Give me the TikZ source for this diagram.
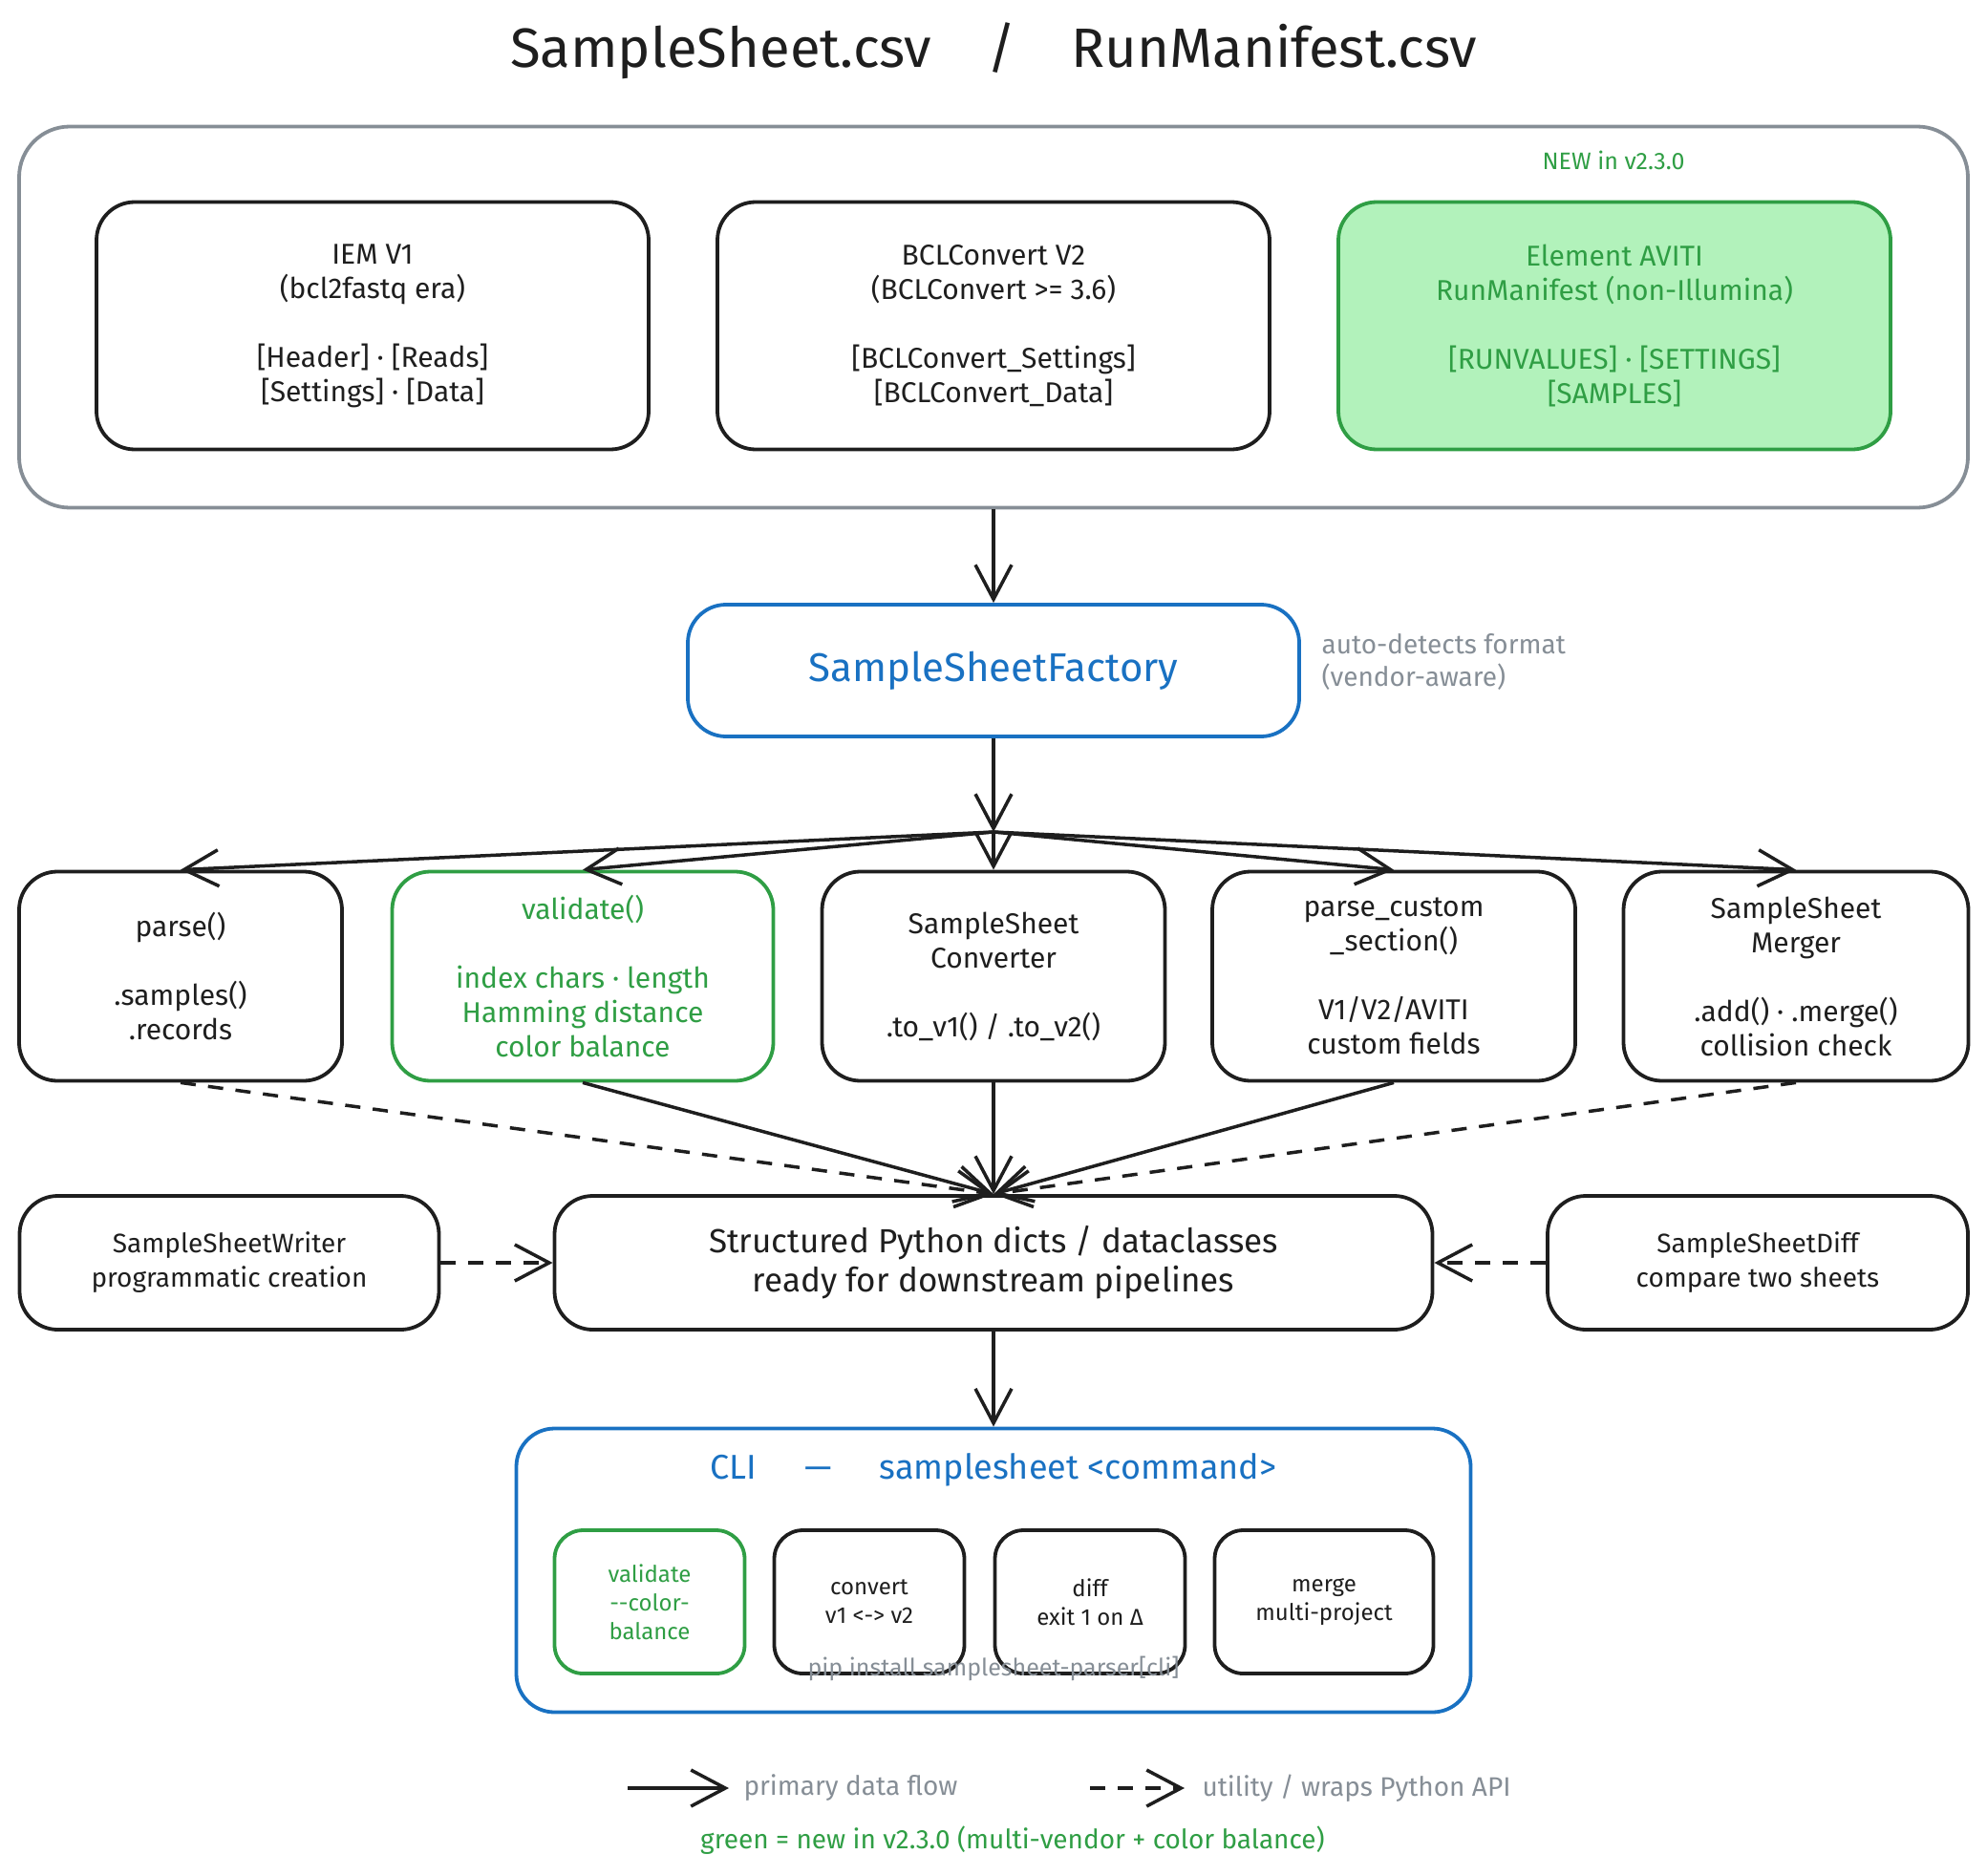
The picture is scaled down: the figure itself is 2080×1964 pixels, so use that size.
\documentclass[tikz,border=0pt]{standalone}
\usepackage{fontspec}
\setmainfont{Fira Sans}
\usetikzlibrary{arrows.meta}

\definecolor{ink}{HTML}{1E1E1E}
\definecolor{grayline}{HTML}{868E96}
\definecolor{newgreen}{HTML}{2F9E44}
\definecolor{newfill}{HTML}{B2F2BB}
\definecolor{apiblue}{HTML}{1971C2}

\newcommand{\fs}[2]{\fontsize{#1}{#2}\selectfont}

\tikzset{
  box/.style={draw=ink,line width=3.8pt,rounded corners=40pt,align=center,
    inner sep=0pt,text=ink,font=\fs{30}{36}},
  newbox/.style={box,draw=newgreen,text=newgreen},
  bluebox/.style={box,draw=apiblue,text=apiblue},
  clibox/.style={box,rounded corners=30pt,font=\fs{24}{30},
    minimum width=199pt,minimum height=150pt},
  flow/.style={draw=ink,line width=3.5pt,-{Straight Barb[length=36pt,width=38pt]}},
  util/.style={flow,dash pattern=on 16pt off 13pt},
  note/.style={text=grayline,font=\fs{28}{34}},
}

\begin{document}
\begin{tikzpicture}[x=1pt,y=-1pt]
\useasboundingbox (0,0) rectangle (2080,1964);
% ---- 标题 ----
\node[text=ink,font=\fs{58}{64}] (title) at (1040,53)
  {SampleSheet.csv\quad/\quad RunManifest.csv};
% ---- 三种格式 ----
\node[box,draw=grayline,rounded corners=53pt,minimum width=2040pt,minimum height=399pt]
  (formats) at (1040,332) {};
\node[note,text=newgreen,font=\fs{25}{28}] (newtag) at (1689,168) {NEW in v2.3.0};
\node[box,minimum width=578pt,minimum height=259pt] (iem) at (390,341)
  {IEM V1\\(bcl2fastq era)\\[36pt]{[}Header{]} · {[}Reads{]}\\{[}Settings{]} · {[}Data{]}};
\node[box,minimum width=578pt,minimum height=259pt] (bcl) at (1040,341)
  {BCLConvert V2\\(BCLConvert >= 3.6)\\[36pt]{[}BCLConvert\_Settings{]}\\{[}BCLConvert\_Data{]}};
\node[newbox,fill=newfill,minimum width=578pt,minimum height=259pt] (aviti) at (1690,341)
  {Element AVITI\\RunManifest (non-Illumina)\\[36pt]{[}RUNVALUES{]} · {[}SETTINGS{]}\\{[}SAMPLES{]}};
% ---- 工厂 ----
\node[bluebox,font=\fs{42}{46},minimum width=640pt,minimum height=138pt]
  (factory) at (1040,702) {SampleSheetFactory};
\node[note,anchor=west,align=left] (detect) at (1380,693)
  {auto-detects format\\(vendor-aware)};
\draw[flow] (formats.south) -- (factory.north);
% ---- 五个接口 ----
\coordinate (fan) at (1040,871);
\node[box,minimum width=338pt,minimum height=219pt] (parse) at (189,1022)
  {parse()\\[36pt].samples()\\.records};
\node[newbox,minimum width=399pt,minimum height=219pt] (validate) at (610,1022)
  {validate()\\[36pt]index chars · length\\Hamming distance\\color balance};
\node[box,minimum width=359pt,minimum height=219pt] (converter) at (1040,1022)
  {SampleSheet\\Converter\\[36pt].to\_v1() / .to\_v2()};
\node[box,minimum width=380pt,minimum height=219pt] (custom) at (1459,1022)
  {parse\_custom\\\_section()\\[36pt]V1/V2/AVITI\\custom fields};
\node[box,minimum width=361pt,minimum height=219pt] (merger) at (1880,1022)
  {SampleSheet\\Merger\\[36pt].add() · .merge()\\collision check};
\draw[flow] (factory.south) -- (fan);
\foreach \b in {parse,validate,converter,custom,merger}
  \draw[flow] (fan) -- (\b.north);
% ---- 结构化输出 ----
\node[box,font=\fs{35}{41},minimum width=919pt,minimum height=140pt] (data) at (1040,1322)
  {Structured Python dicts / dataclasses\\ready for downstream pipelines};
\node[box,font=\fs{28}{36},minimum width=439pt,minimum height=140pt] (writer) at (240,1322)
  {SampleSheetWriter\\programmatic creation};
\node[box,font=\fs{28}{36},minimum width=440pt,minimum height=140pt] (diff) at (1840,1322)
  {SampleSheetDiff\\compare two sheets};
\draw[util] (parse.south) -- (data.north);
\foreach \b in {validate,converter,custom}
  \draw[flow] (\b.south) -- (data.north);
\draw[util] (merger.south) -- (data.north);
\draw[util] (writer.east) -- (data.west);
\draw[util] (diff.west) -- (data.east);
% ---- 命令行 ----
\node[bluebox,minimum width=999pt,minimum height=297pt] (cli) at (1040,1644) {};
\node[text=apiblue,font=\fs{36}{40}] (clititle) at (1040,1539)
  {CLI\hspace{50pt}—\hspace{50pt}samplesheet <command>};
\node[clibox,draw=newgreen,text=newgreen] (cval) at (680,1677) {validate\\-{}-color-\\balance};
\node[clibox] (cconv) at (910,1677) {convert\\v1 <-> v2};
\node[clibox] (cdiff) at (1141,1677) {diff\\exit 1 on Δ};
\node[clibox,minimum width=229pt] (cmerge) at (1386,1677) {merge\\multi-project};
\node[note,font=\fs{25}{28}] (pip) at (1040,1747) {pip install samplesheet-parser[cli]};
\draw[flow] (data.south) -- (cli.north);
% ---- 图例 ----
\coordinate (flowa) at (657,1872);
\coordinate (flowb) at (763,1872);
\draw[flow] (flowa) -- (flowb);
\node[note,anchor=west] (flowtxt) at (775,1872) {primary data flow};
\coordinate (utila) at (1141,1872);
\coordinate (utilb) at (1240,1872);
\draw[util] (utila) -- (utilb);
\node[note,anchor=west] (utiltxt) at (1255,1872) {utility / wraps Python API};
\node[note,text=newgreen] (greennote) at (1060,1927)
  {green = new in v2.3.0 (multi-vendor + color balance)};
\end{tikzpicture}
\end{document}
